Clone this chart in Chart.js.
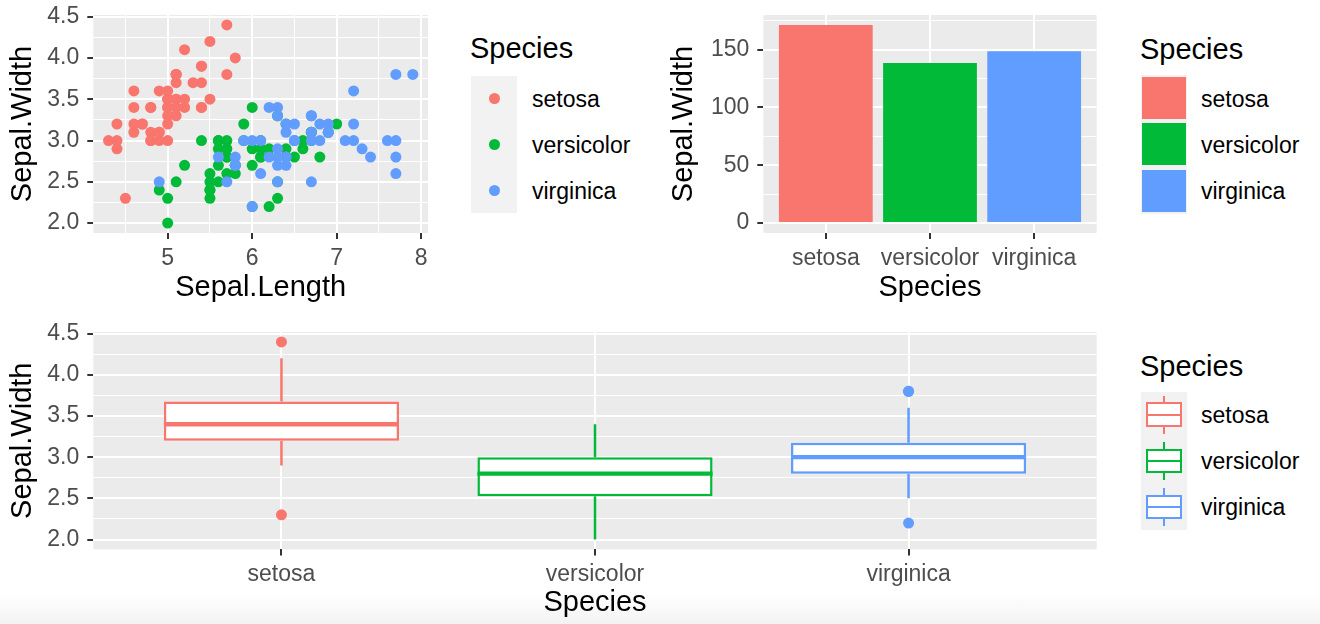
<!DOCTYPE html>
<html>
<head>
<meta charset="utf-8">
<script src="https://cdn.jsdelivr.net/npm/chart.js@4/dist/chart.umd.min.js"></script>
<style>
  html, body { margin: 0; padding: 0; background: #ffffff; width: 1320px; height: 624px; overflow: hidden;
    font-family: "Liberation Sans", Arial, Helvetica, sans-serif; }
  canvas { position: absolute; }
  .bottomfade { position: absolute; left: 0; top: 594px; width: 1320px; height: 30px;
    background: linear-gradient(to bottom, #ffffff, #f3f3f3); }
  .lg-title { position: absolute; font-size: 29px; line-height: 29px; color: #000; white-space: nowrap; }
  .lg-keys { position: absolute; background: #F2F2F2; width: 46px; }
  .lg-label { position: absolute; display: flex; align-items: center; font-size: 23px; line-height: 23px;
    color: #000; white-space: nowrap; }
  .abs { position: absolute; }
</style>
</head>
<body>
<div class="bottomfade"></div>
<canvas id="scatter" width="440" height="310" style="left:0px;top:0px;"></canvas>
<canvas id="bars" width="460" height="310" style="left:660px;top:0px;"></canvas>
<canvas id="boxes" width="1120" height="314" style="left:0px;top:310px;"></canvas>
<div id="legends"></div>
<script>
// ---------------- data ----------------
const species = ['setosa', 'versicolor', 'virginica'];
const colors = ['#F8766D', '#00BA38', '#619CFF'];

const setosaLength = [5.1,4.9,4.7,4.6,5.0,5.4,4.6,5.0,4.4,4.9,5.4,4.8,4.8,4.3,5.8,5.7,5.4,5.1,5.7,5.1,5.4,5.1,4.6,5.1,4.8,5.0,5.0,5.2,5.2,4.7,4.8,5.4,5.2,5.5,4.9,5.0,5.5,4.9,4.4,5.1,5.0,4.5,4.4,5.0,5.1,4.8,5.1,4.6,5.3,5.0];
const setosaWidth  = [3.5,3.0,3.2,3.1,3.6,3.9,3.4,3.4,2.9,3.1,3.7,3.4,3.0,3.0,4.0,4.4,3.9,3.5,3.8,3.8,3.4,3.7,3.6,3.3,3.4,3.0,3.4,3.5,3.4,3.2,3.1,3.4,4.1,4.2,3.1,3.2,3.5,3.6,3.0,3.4,3.5,2.3,3.2,3.5,3.8,3.0,3.8,3.2,3.7,3.3];
const versicolorLength = [7.0,6.4,6.9,5.5,6.5,5.7,6.3,4.9,6.6,5.2,5.0,5.9,6.0,6.1,5.6,6.7,5.6,5.8,6.2,5.6,5.9,6.1,6.3,6.1,6.4,6.6,6.8,6.7,6.0,5.7,5.5,5.5,5.8,6.0,5.4,6.0,6.7,6.3,5.6,5.5,5.5,6.1,5.8,5.0,5.6,5.7,5.7,6.2,5.1,5.7];
const versicolorWidth  = [3.2,3.2,3.1,2.3,2.8,2.8,3.3,2.4,2.9,2.7,2.0,3.0,2.2,2.9,2.9,3.1,3.0,2.7,2.2,2.5,3.2,2.8,2.5,2.8,2.9,3.0,2.8,3.0,2.9,2.6,2.4,2.4,2.7,2.7,3.0,3.4,3.1,2.3,3.0,2.5,2.6,3.0,2.6,2.3,2.7,3.0,2.9,2.9,2.5,2.8];
const virginicaLength = [6.3,5.8,7.1,6.3,6.5,7.6,4.9,7.3,6.7,7.2,6.5,6.4,6.8,5.7,5.8,6.4,6.5,7.7,7.7,6.0,6.9,5.6,7.7,6.3,6.7,7.2,6.2,6.1,6.4,7.2,7.4,7.9,6.4,6.3,6.1,7.7,6.3,6.4,6.0,6.9,6.7,6.9,5.8,6.8,6.7,6.7,6.3,6.5,6.2,5.9];
const virginicaWidth  = [3.3,2.7,3.0,2.9,3.0,3.0,2.5,2.9,2.5,3.6,3.2,2.7,3.0,2.5,2.8,3.2,3.0,3.8,2.6,2.2,3.2,2.8,2.8,2.7,3.3,3.2,2.8,3.0,2.8,3.0,2.8,3.8,2.8,2.8,2.6,3.0,3.4,3.1,3.0,3.1,3.1,3.1,2.7,3.2,3.3,3.0,2.5,3.0,3.4,3.0];

const widthTotals = [171.4, 138.5, 148.7];

const boxQ1 = [3.2, 2.525, 2.8];
const boxMedian = [3.4, 2.8, 3.0];
const boxQ3 = [3.675, 3.0, 3.175];
const whiskerLow = [2.9, 2.0, 2.5];
const whiskerHigh = [4.2, 3.4, 3.6];
const outliers = [[4.4, 2.3], [], [3.8, 3.8, 2.2]];

const lengthTicks = [5, 6, 7, 8];
const lengthMinor = [4.5, 5.5, 6.5, 7.5];
const widthTicks = [2.0, 2.5, 3.0, 3.5, 4.0, 4.5];
const widthMinor = [2.25, 2.75, 3.25, 3.75, 4.25];
const totalTicks = [0, 50, 100, 150];
const totalMinor = [25, 75, 125, 175];
const speciesPos = [1, 2, 3];

// ---------------- helpers ----------------
const FONT = '"Liberation Sans", Arial, Helvetica, sans-serif';
const TICK_SIZE = 23;
const TITLE_SIZE = 29;

function axis(o) {
  const isMajor = v => o.major.some(m => Math.abs(m - v) < 1e-9);
  return {
    type: 'linear', min: o.min, max: o.max, offset: false,
    afterBuildTicks: s => { s.ticks = o.major.concat(o.minor).sort((a, b) => a - b).map(v => ({ value: v })); },
    afterFit: s => {
      if (o.isY) s.width = o.size; else s.height = o.size;
      s.paddingTop = 0; s.paddingBottom = 0; s.paddingLeft = 0; s.paddingRight = 0;
    },
    ticks: {
      autoSkip: false, maxRotation: 0, minRotation: 0, padding: o.tickPad, color: '#4D4D4D',
      font: { family: FONT, size: TICK_SIZE },
      callback: v => isMajor(v) ? o.label(v) : ''
    },
    grid: {
      offset: false, color: '#FFFFFF', lineWidth: c => (c.tick && isMajor(c.tick.value)) ? 2 : 1,
      drawTicks: true, tickLength: 6, tickWidth: 2,
      tickColor: c => (c.tick && isMajor(c.tick.value)) ? '#333333' : 'rgba(0,0,0,0)'
    },
    border: { display: false },
    title: { display: true, text: o.title, color: '#000000',
      font: { family: FONT, size: TITLE_SIZE, lineHeight: 1.2 }, padding: o.titlePad }
  };
}

const panelBg = {
  id: 'panelBg',
  beforeDraw(chart) {
    const { ctx, chartArea: a } = chart;
    ctx.save();
    ctx.fillStyle = '#EBEBEB';
    ctx.fillRect(a.left, a.top, a.right - a.left, a.bottom - a.top);
    ctx.restore();
  }
};

const baseOptions = (padTop, padRight, scales) => ({
  responsive: false, animation: false, devicePixelRatio: 1, events: [],
  layout: { padding: { top: padTop, right: padRight, left: 0, bottom: 0 } },
  plugins: { legend: { display: false }, tooltip: { enabled: false } },
  scales
});

// ---------------- scatter ----------------
const lengths = [setosaLength, versicolorLength, virginicaLength];
const widths = [setosaWidth, versicolorWidth, virginicaWidth];

new Chart(document.getElementById('scatter'), {
  type: 'scatter',
  data: {
    datasets: species.map((s, i) => ({
      label: s,
      data: lengths[i].map((x, j) => ({ x, y: widths[i][j] })),
      backgroundColor: colors[i], pointRadius: 5.5, pointBorderWidth: 0, pointHoverRadius: 5.5,
      order: 3 - i
    }))
  },
  options: baseOptions(15, 12, {
    x: axis({ min: 4.12, max: 8.08, major: lengthTicks, minor: lengthMinor, label: v => String(v),
      title: 'Sepal.Length', size: 77, tickPad: 5.5, titlePad: { top: 0, bottom: 5 } }),
    y: axis({ isY: true, min: 1.88, max: 4.52, major: widthTicks, minor: widthMinor, label: v => v.toFixed(1),
      title: 'Sepal.Width', size: 93.3, tickPad: 8, titlePad: { top: 6, bottom: 0 } })
  }),
  plugins: [panelBg]
});

// ---------------- bars ----------------
new Chart(document.getElementById('bars'), {
  type: 'bar',
  data: {
    datasets: [{
      data: widthTotals.map((v, i) => ({ x: speciesPos[i], y: v })),
      backgroundColor: colors, borderWidth: 0, barPercentage: 0.9, categoryPercentage: 1, grouped: false
    }]
  },
  options: baseOptions(15, 23.3, {
    x: axis({ min: 0.4, max: 3.6, major: speciesPos, minor: [], label: v => species[v - 1],
      title: 'Species', size: 77, tickPad: 5.5, titlePad: { top: 0, bottom: 5 } }),
    y: axis({ isY: true, min: -8.57, max: 179.97, major: totalTicks, minor: totalMinor, label: v => String(v),
      title: 'Sepal.Width', size: 103.3, tickPad: 8, titlePad: { top: 7, bottom: 0 } })
  }),
  plugins: [panelBg]
});

// ---------------- boxplots ----------------
const medianPlugin = {
  id: 'median',
  afterDatasetsDraw(chart) {
    const meta = chart.getDatasetMeta(0);
    const y = chart.scales.y;
    const ctx = chart.ctx;
    meta.data.forEach((el, i) => {
      const py = y.getPixelForValue(boxMedian[i]);
      ctx.save();
      ctx.strokeStyle = colors[i];
      ctx.lineWidth = 4.4;
      ctx.beginPath();
      ctx.moveTo(el.x - el.width / 2, py);
      ctx.lineTo(el.x + el.width / 2, py);
      ctx.stroke();
      ctx.restore();
    });
  }
};

const boxDatasets = [{
  type: 'bar',
  data: species.map((s, i) => ({ x: speciesPos[i], y: [boxQ1[i], boxQ3[i]] })),
  backgroundColor: '#FFFFFF', borderColor: colors, borderWidth: 2.5, borderSkipped: false,
  barPercentage: 0.75, categoryPercentage: 1, grouped: false, order: 3
}];
species.forEach((s, i) => {
  boxDatasets.push({
    type: 'line',
    data: [
      { x: speciesPos[i], y: boxQ3[i] }, { x: speciesPos[i], y: whiskerHigh[i] },
      { x: speciesPos[i], y: null },
      { x: speciesPos[i], y: boxQ1[i] }, { x: speciesPos[i], y: whiskerLow[i] }
    ],
    borderColor: colors[i], borderWidth: 2.5, pointRadius: 0, spanGaps: false, fill: false, order: 4
  });
  boxDatasets.push({
    type: 'scatter',
    data: outliers[i].map(v => ({ x: speciesPos[i], y: v })),
    backgroundColor: colors[i], pointRadius: 5.5, pointBorderWidth: 0, order: 1
  });
});

new Chart(document.getElementById('boxes'), {
  type: 'bar',
  data: { datasets: boxDatasets },
  options: baseOptions(22, 23.3, {
    x: axis({ min: 0.4, max: 3.6, major: speciesPos, minor: [], label: v => species[v - 1],
      title: 'Species', size: 74.6, tickPad: 5.5, titlePad: { top: 0, bottom: 3.5 } }),
    y: axis({ isY: true, min: 1.88, max: 4.52, major: widthTicks, minor: widthMinor, label: v => v.toFixed(1),
      title: 'Sepal.Width', size: 93.3, tickPad: 8, titlePad: { top: 6, bottom: 0 } })
  }),
  plugins: [panelBg, medianPlugin]
});

// ---------------- legends (HTML) ----------------
const root = document.getElementById('legends');
function el(cls, style, text) {
  const d = document.createElement('div');
  if (cls) d.className = cls;
  Object.assign(d.style, style);
  if (text !== undefined) d.textContent = text;
  root.appendChild(d);
  return d;
}
function legend(cfg) {
  el('lg-title', { left: cfg.left - 1 + 'px', top: cfg.titleTop + 'px' }, 'Species');
  el('lg-keys', { left: cfg.left + 'px', top: cfg.keysTop + 'px', height: cfg.rowH * 3 + 'px' });
  species.forEach((s, i) => {
    const top = cfg.keysTop + i * cfg.rowH;
    const cy = top + cfg.rowH / 2;
    cfg.key(i, cfg.left, top, cy);
    el('lg-label', { left: cfg.labelLeft + 'px', top: top + 1 + 'px', height: cfg.rowH + 'px' }, s);
  });
}
// scatter legend: dots
legend({ left: 471, titleTop: 34, keysTop: 76, rowH: 45.67, labelLeft: 532,
  key: (i, left, top, cy) => el('abs', { left: (left + 23 - 5.5) + 'px', top: (cy - 5.5) + 'px',
    width: '11px', height: '11px', borderRadius: '50%', background: colors[i] }) });
// bar legend: filled squares
legend({ left: 1141, titleTop: 34.5, keysTop: 75.3, rowH: 46.1, labelLeft: 1201,
  key: (i, left, top, cy) => el('abs', { left: (left + 1) + 'px', top: (top + 2) + 'px',
    width: '44px', height: '42px', background: colors[i] }) });
// boxplot legend: box glyphs
legend({ left: 1141, titleTop: 352, keysTop: 391.7, rowH: 46.1, labelLeft: 1201,
  key: (i, left, top, cy) => {
    el('abs', { left: (left + 22) + 'px', top: (cy - 19) + 'px', width: '2.4px', height: '38px', background: colors[i] });
    el('abs', { left: (left + 5) + 'px', top: (cy - 12.3) + 'px', width: '36px', height: '24.6px',
      boxSizing: 'border-box', border: '2.4px solid ' + colors[i], background: '#FFFFFF' });
    el('abs', { left: (left + 5) + 'px', top: (cy - 1.2) + 'px', width: '36px', height: '2.4px', background: colors[i] });
  } });
</script>
</body>
</html>
